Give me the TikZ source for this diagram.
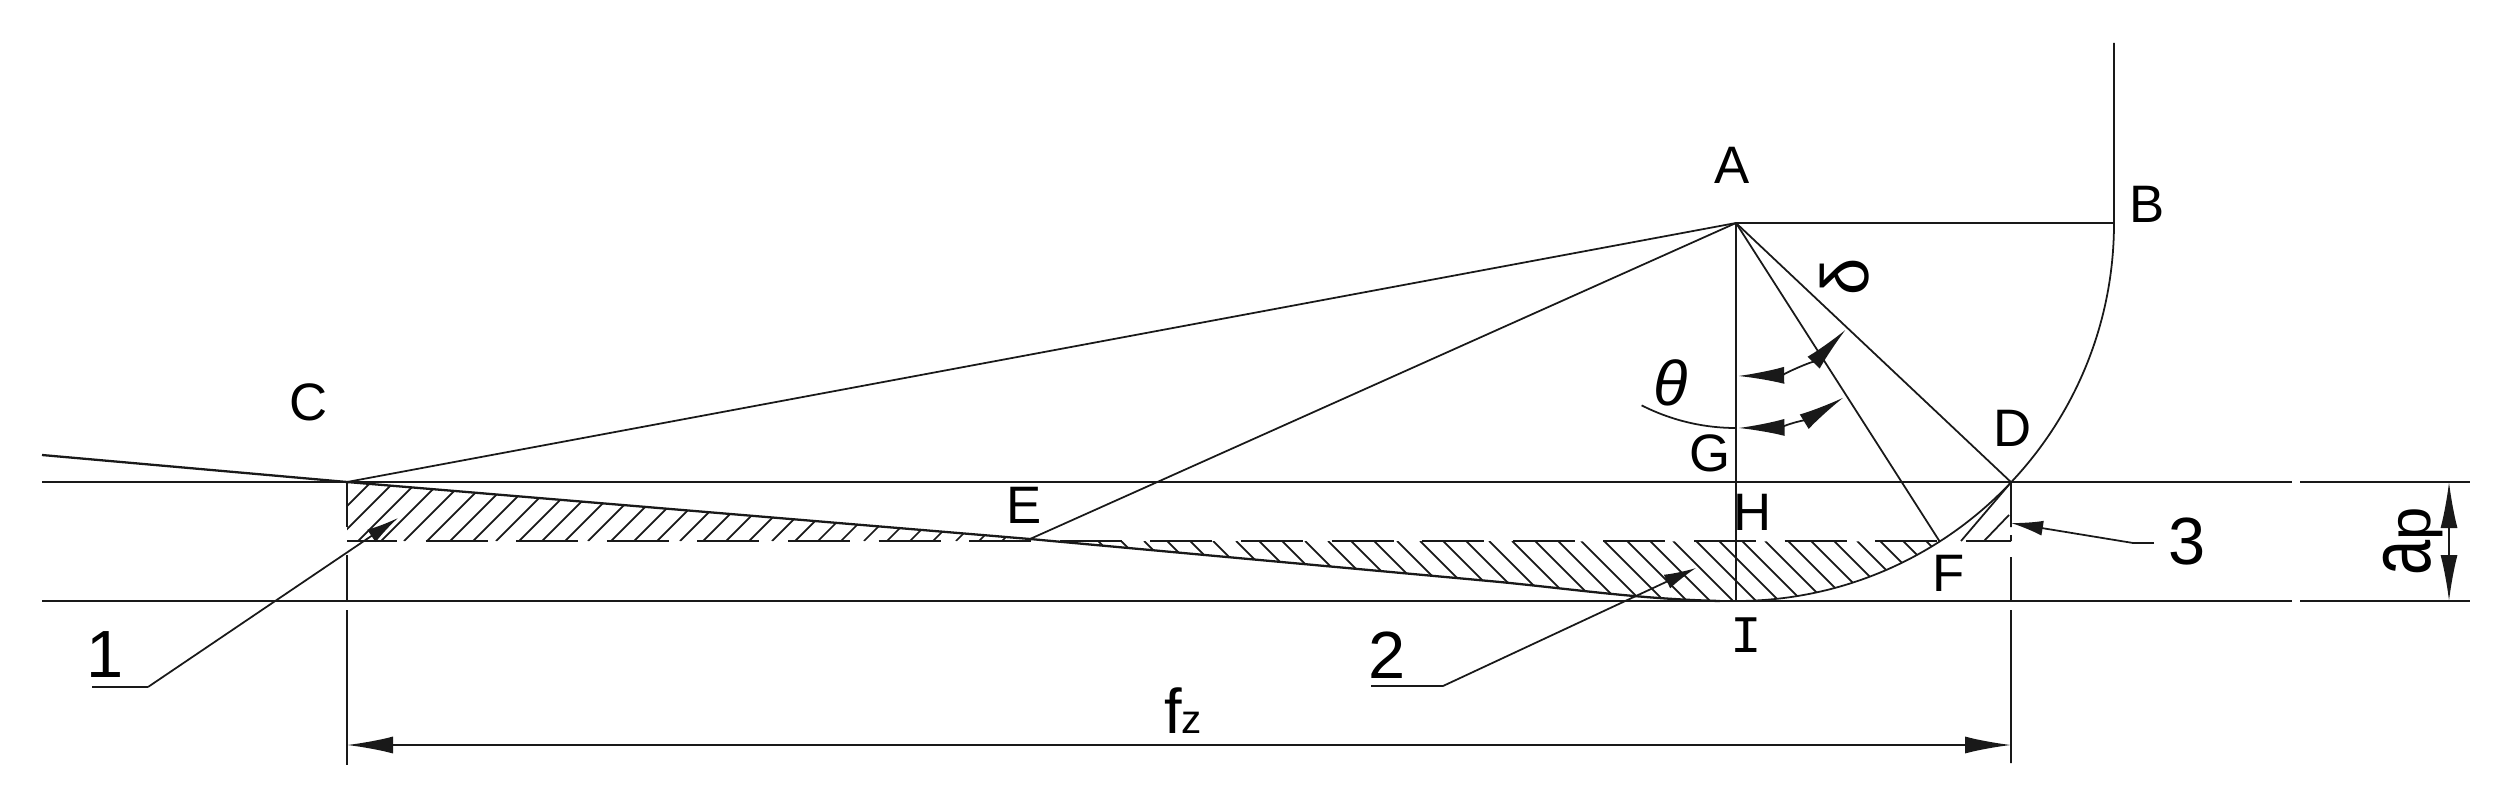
\documentclass[tikz,border=0pt]{standalone}
\usepackage{fontspec}
\setmainfont{Liberation Sans}
\newfontfamily\serifI{Liberation Mono}
\usepackage{tikz}
\usetikzlibrary{arrows.meta,calc}
\tikzset{
  thinline/.style={line width=0.5pt,black!90},
  edgeline/.style={line width=0.65pt,black!90},
  dimarrow/.style={thinline,{Latex[length=4.6mm,width=1.7mm]}-{Latex[length=4.6mm,width=1.7mm]}},
  leader/.style={thinline,-{Latex[length=3.2mm,width=1.5mm]}},
  pointlabel/.style={font=\fontsize{15}{17}\selectfont,inner sep=0pt},
  numlabel/.style={font=\fontsize{19}{21}\selectfont,inner sep=0pt},
}
\begin{document}
\begin{tikzpicture}
\useasboundingbox (0,0) rectangle (25,7.96);
\coordinate (A) at (17.36,5.73);
\coordinate (B) at (21.14,5.73);
\coordinate (T) at (21.14,7.53);
\coordinate (C) at (3.47,3.14);
\coordinate (W) at (0.42,3.41);
\coordinate (D) at ($(A)+(-43.3:3.78)$);
\coordinate (E) at (10.30,2.57);
\coordinate (F) at ($(A)+(-57.4:3.78)$);
\coordinate (H) at (17.36,3.14);
\coordinate (I) at (17.36,1.95);
% depth lines, broken on the right
\draw[edgeline] (0.42,3.14) -- (22.92,3.14) (23.00,3.14) -- (24.70,3.14);
\draw[edgeline] (0.42,1.95) -- (22.92,1.95) (23.00,1.95) -- (24.70,1.95);
\draw[edgeline,dash pattern=on 0.62cm off 0.286cm,dash phase=0.12cm] (3.47,2.55) -- (20.11,2.55);
% cutter
\draw[thinline] (T) -- (B) -- (A) -- (C);
\draw[thinline] (A) -- (E);
\draw[thinline] (A) -- (I);
\draw[thinline] (A) -- (F);
\draw[thinline] (A) -- (D);
\draw[thinline] (B) arc (0:-90:3.78);
\draw[edgeline] (W) -- (C) -- (E) -- (15.0,2.14) .. controls (15.8,2.06) and (16.4,1.97) .. (17.2,1.95);
% hatching
\begin{scope}
\clip (C) -- (E) -- (10.30,2.55) -- (3.47,2.55) -- cycle;
\foreach \hx in {2.89,3.12,...,10.4} \draw[thinline] (\hx,2.55) -- ++(1,1);
\end{scope}
\begin{scope}
\clip (E) -- (10.30,2.55) -- (F) arc (-57.4:-90:3.78) -- (17.2,1.95) .. controls (16.4,1.97) and (15.8,2.06) .. (15.0,2.14) -- cycle;
\foreach \hx in {10.29,10.52,...,19.4} \draw[thinline] (\hx,2.55) -- ++(1,-1);
\end{scope}
\draw[thinline] (D) -- (19.61,2.55) (20.09,2.81) -- (19.84,2.55);
% extension lines
\draw[thinline] (C) -- (3.47,2.69) (3.47,2.41) -- (3.47,1.95) (3.47,1.86) -- (3.47,0.31);
\draw[thinline] (D) -- (20.11,2.69) (20.11,2.61) -- (20.11,2.55) (20.11,2.39) -- (20.11,1.95) (20.11,1.86) -- (20.11,0.33);
% dimensions
\coordinate (fL) at (3.47,0.51);
\coordinate (fR) at (20.11,0.51);
\draw[dimarrow] (fL) -- (fR);
\coordinate (apT) at (24.49,3.14);
\coordinate (apB) at (24.49,1.95);
\draw[dimarrow] (apT) -- (apB);
\node[inner sep=0pt] (fz) at (11.83,0.85) {\fontsize{18}{20}\selectfont f\fontsize{11.5}{13}\selectfont z};
\node[inner sep=0pt,rotate=90] (ap) at (24.13,2.55) {\fontsize{25}{27}\selectfont\scalebox{0.72}[1]{a}\fontsize{17}{19}\selectfont p};
% angles
\draw[dimarrow] ($(A)+(-89.2:1.53)$) arc (-89.2:-44.2:1.53);
\draw[dimarrow] ($(A)+(-89.3:2.05)$) arc (-89.3:-58.4:2.05);
\draw[thinline] ($(A)+(-90:2.05)$) arc (-90:-117:2.08);
\node[inner sep=0pt,font=\fontsize{18}{20}\selectfont\itshape] (theta) at (16.71,4.13) {θ};
\node[numlabel,rotate=90] (delta) at (18.45,5.19) {δ};
% leaders
\coordinate (n1a) at (0.92,1.09);
\coordinate (n1b) at (1.48,1.09);
\coordinate (n1c) at (3.98,2.78);
\draw[thinline] (n1a) -- (n1b);
\draw[leader] (n1b) -- (n1c);
\coordinate (n2a) at (13.71,1.10);
\coordinate (n2b) at (14.43,1.10);
\coordinate (n2c) at (16.96,2.28);
\draw[thinline] (n2a) -- (n2b);
\draw[leader] (n2b) -- (n2c);
\coordinate (n3a) at (21.54,2.53);
\coordinate (n3b) at (21.33,2.53);
\coordinate (n3c) at (20.11,2.73);
\draw[thinline] (n3a) -- (n3b);
\draw[leader] (n3b) -- (n3c);
\node[numlabel] (one) at (1.05,1.41) {1};
\node[numlabel] (two) at (13.87,1.41) {2};
\node[numlabel] (three) at (21.87,2.54) {3};
% point names
\node[pointlabel] (labA) at (17.32,6.31) {A};
\node[pointlabel] (labB) at (21.47,5.92) {B};
\node[pointlabel] (labC) at (3.09,3.94) {C};
\node[pointlabel] (labD) at (20.13,3.68) {D};
\node[pointlabel] (labE) at (10.24,2.91) {E};
\node[pointlabel] (labF) at (19.49,2.23) {F};
\node[pointlabel] (labG) at (17.10,3.43) {G};
\node[pointlabel] (labH) at (17.53,2.84) {H};
\node[pointlabel,font=\fontsize{15}{17}\selectfont\serifI] (labI) at (17.46,1.61) {I};
\end{tikzpicture}
\end{document}
